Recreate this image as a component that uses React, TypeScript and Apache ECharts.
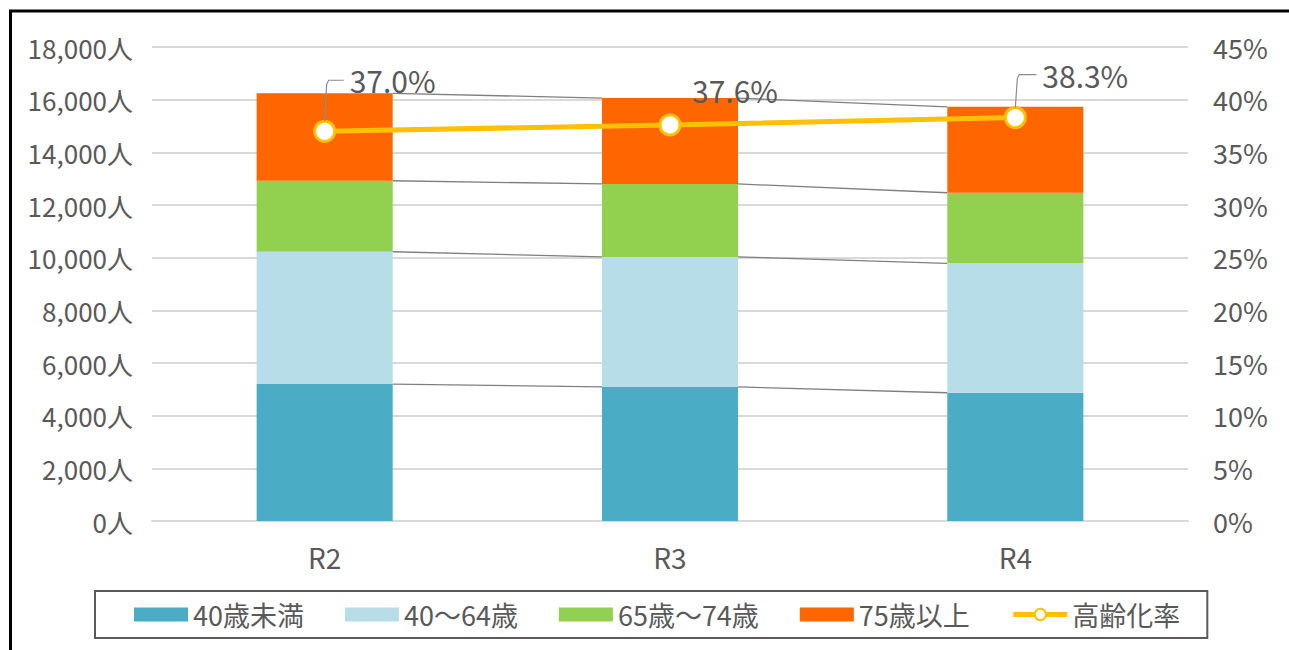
import React, { useEffect, useRef } from "react";
import * as echarts from "echarts";

const categories = ["R2", "R3", "R4"];
const under40 = [5200, 5090, 4870];
const age40to64 = [5025, 4940, 4915];
const age65to74 = [2695, 2770, 2680];
const age75plus = [3320, 3260, 3265];
const agingRate = [37.0, 37.6, 38.3];

const seriesNames = ["40歳未満", "40～64歳", "65歳～74歳", "75歳以上", "高齢化率"];
const leftTicks = { min: 0, max: 18000, interval: 2000 };
const rightTicks = { min: 0, max: 45, interval: 5 };

const colors = ["#4BACC6", "#B7DDE8", "#92D050", "#FF6600"];
const lineColor = "#FFC000";
const textColor = "#595959";
const FONT = "'Noto Sans CJK JP', 'Noto Sans', sans-serif";

// label placement per point (style)
const labelPlacement = [
  { dx: 25, dy: -51, leader: true },
  { dx: 22, dy: -35, leader: false },
  { dx: 27, dy: -43, leader: true },
];

const BAR_RATIO = 0.394;

export default function App() {
  const ref = useRef<HTMLDivElement>(null);
  useEffect(() => {
    if (!ref.current) return;
    const chart = echarts.init(ref.current, undefined, { renderer: "svg" });
    const stacks = [under40, age40to64, age65to74, age75plus];
    const cum = categories.map((_, i) => {
      let s = 0;
      return stacks.map((arr) => (s += arr[i]));
    });
    const seriesLineData = categories.slice(0, -1).map((_, i) => [i, ...cum[i], ...cum[i + 1]]);
    const L = stacks.length;

    chart.setOption({
      animation: false,
      backgroundColor: "#fff",
      grid: { left: 152, right: 101, top: 47, bottom: 129, containLabel: false },
      graphic: [
        {
          type: "rect",
          silent: true,
          z: 100,
          shape: { x: 10.5, y: 11, width: 1300, height: 700 },
          style: { fill: "none", stroke: "#000", lineWidth: 3 },
        },
      ],
      legend: {
        left: 95,
        top: 591,
        padding: [10, 27, 10, 39],
        borderColor: "#595959",
        borderWidth: 2,
        itemWidth: 54,
        itemHeight: 14,
        itemGap: 41,
        textStyle: { fontSize: 27, color: textColor, fontFamily: FONT },
        data: [
          { name: seriesNames[0], icon: "rect" },
          { name: seriesNames[1], icon: "rect" },
          { name: seriesNames[2], icon: "rect" },
          { name: seriesNames[3], icon: "rect" },
          { name: seriesNames[4], lineStyle: { width: 5 } },
        ],
      },
      xAxis: {
        type: "category",
        data: categories,
        axisLine: { lineStyle: { color: "#D9D9D9", width: 2 } },
        axisTick: { show: false },
        axisLabel: { fontSize: 28, color: textColor, fontFamily: FONT, margin: 22 },
      },
      yAxis: [
        {
          type: "value",
          ...leftTicks,
          axisLabel: {
            fontSize: 26,
            color: textColor,
            fontFamily: FONT,
            margin: 19,
            formatter: (v: number) => v.toLocaleString("en-US") + "人",
          },
          splitLine: { lineStyle: { color: "#D9D9D9", width: 2 } },
          axisLine: { show: false },
          axisTick: { show: false },
        },
        {
          type: "value",
          ...rightTicks,
          axisLabel: {
            fontSize: 27,
            color: textColor,
            fontFamily: FONT,
            margin: 25,
            formatter: (v: number) => v + "%",
          },
          splitLine: { show: false },
          axisLine: { show: false },
          axisTick: { show: false },
        },
      ],
      series: [
        ...stacks.map((arr, k) => ({
          name: seriesNames[k],
          type: "bar",
          stack: "total",
          barWidth: BAR_RATIO * 100 + "%",
          itemStyle: { color: colors[k] },
          data: arr,
        })),
        {
          name: "seriesLines",
          type: "custom",
          silent: true,
          xAxisIndex: 0,
          yAxisIndex: 0,
          z: 1,
          encode: { x: 0, y: 1 },
          data: seriesLineData,
          renderItem: (params: any, api: any) => {
            const i = api.value(0);
            const band = api.size([1, 0])[0];
            const half = (band * BAR_RATIO) / 2;
            const children: any[] = [];
            for (let k = 0; k < L; k++) {
              const p1 = api.coord([i, api.value(1 + k)]);
              const p2 = api.coord([i + 1, api.value(1 + L + k)]);
              children.push({
                type: "line",
                shape: { x1: p1[0] + half, y1: p1[1], x2: p2[0] - half, y2: p2[1] },
                style: { stroke: "#7F7F7F", lineWidth: 1.3 },
              });
            }
            return { type: "group", children };
          },
        },
        {
          name: seriesNames[4],
          type: "line",
          yAxisIndex: 1,
          z: 5,
          symbol: "circle",
          symbolSize: 20,
          lineStyle: { color: lineColor, width: 5 },
          itemStyle: { color: "#fff", borderColor: lineColor, borderWidth: 3 },
          data: agingRate,
        },
        {
          name: "rateLabels",
          type: "custom",
          silent: true,
          xAxisIndex: 0,
          yAxisIndex: 1,
          z: 10,
          encode: { x: 0, y: 1 },
          data: agingRate.map((v, i) => [i, v]),
          renderItem: (params: any, api: any) => {
            const i = api.value(0);
            const v = api.value(1);
            const p = api.coord([i, v]);
            const pl = labelPlacement[i];
            const children: any[] = [];
            if (pl.leader) {
              children.push({
                type: "polyline",
                shape: {
                  points: [
                    [p[0], p[1] - 10],
                    [p[0] + 2, p[1] + pl.dy + 4],
                    [p[0] + 4, p[1] + pl.dy],
                    [p[0] + pl.dx - 6, p[1] + pl.dy],
                  ],
                },
                style: { stroke: "#8C8C8C", lineWidth: 1.2, fill: "none" },
              });
            }
            children.push({
              type: "text",
              x: p[0] + pl.dx,
              y: p[1] + pl.dy,
              style: {
                text: v.toFixed(1) + "%",
                fontSize: 30,
                fontFamily: FONT,
                fill: textColor,
                align: "left",
                verticalAlign: "middle",
              },
            });
            return { type: "group", children };
          },
        },
      ],
    });
    return () => chart.dispose();
  }, []);
  return (
    <div
      ref={ref}
      style={{ position: "fixed", left: 0, top: 0, width: 1289, height: 650, background: "#fff" }}
    />
  );
}
